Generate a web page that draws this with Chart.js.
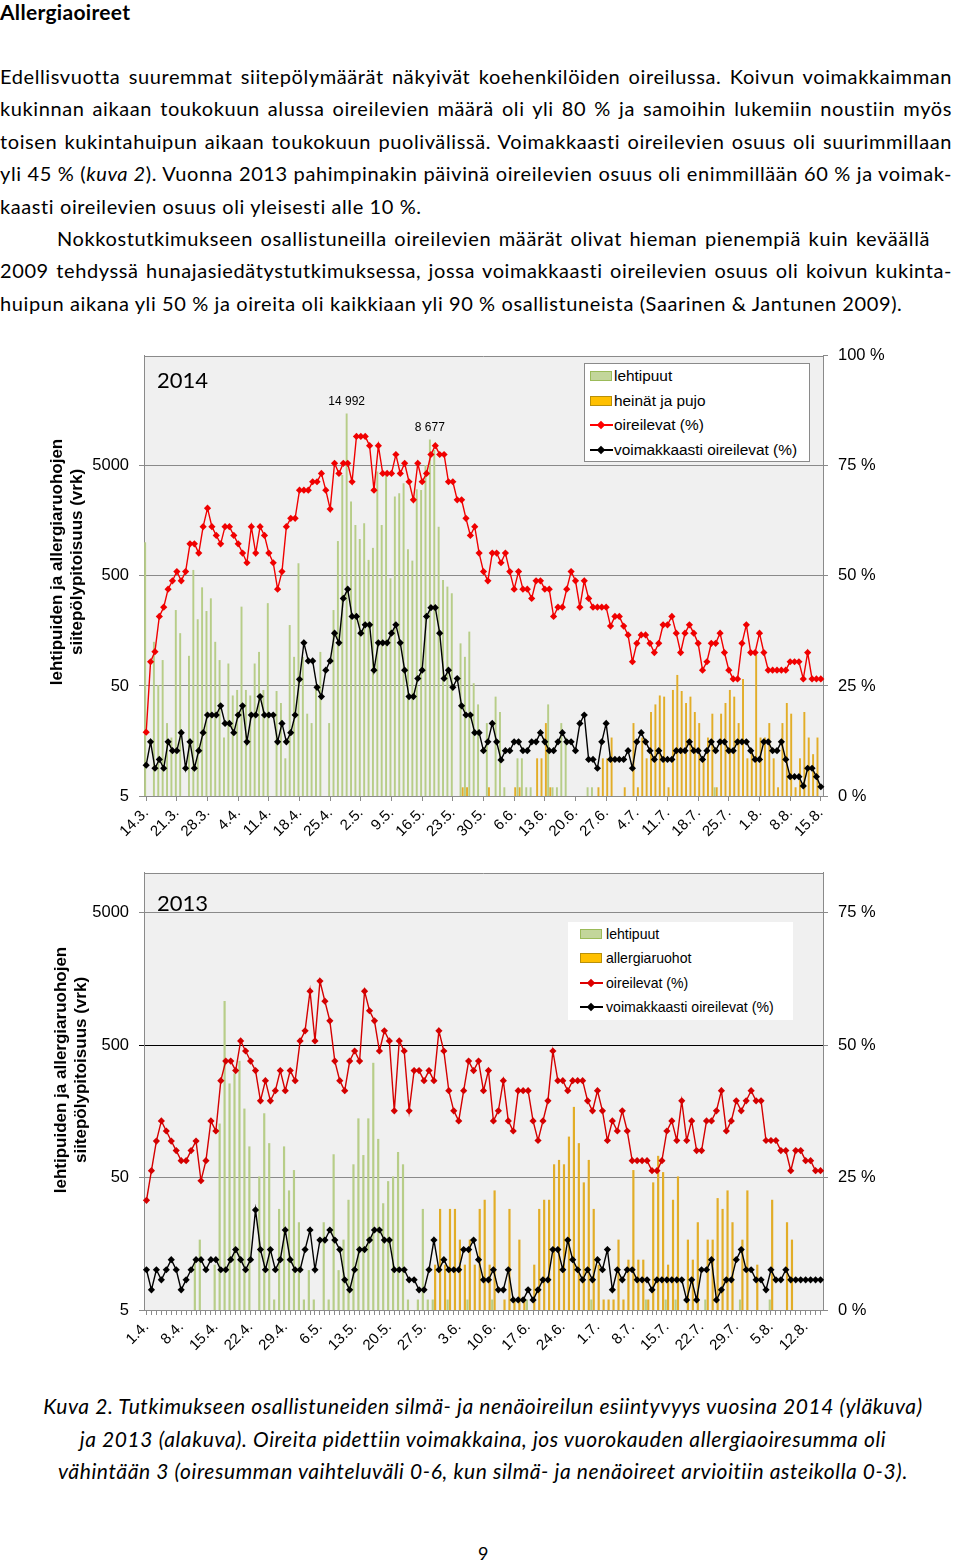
<!DOCTYPE html>
<html><head><meta charset="utf-8">
<script src="https://cdn.jsdelivr.net/npm/chart.js@4.4.1/dist/chart.umd.min.js"></script>
<style>
body{margin:0;width:960px;height:1565px;position:relative;background:#fff;color:#000;overflow:hidden;font-family:Lato,"Liberation Sans",sans-serif}
.abs{position:absolute}
.title{position:absolute;left:0;top:0;font-weight:bold;font-size:21px;letter-spacing:0.3px;line-height:24px}
.ln{position:absolute;left:0;width:952px;font-size:20px;letter-spacing:0.6px;line-height:32px;text-align:justify;text-align-last:justify;white-space:nowrap}
.ln.l{text-align:left;text-align-last:left}
.cap{position:absolute;left:0;width:966px;text-align:center;font-style:italic;font-size:21px;letter-spacing:0.6px;line-height:32px;white-space:nowrap}
.ytitle{position:absolute;width:300px;height:38px;line-height:19px;text-align:center;font:bold 17px "Liberation Sans",Arial,sans-serif;transform:rotate(-90deg)}
.yr{position:absolute;font-size:22px;line-height:24px}
.leg{position:absolute;background:#fff;box-sizing:border-box;font-family:"Liberation Sans",Arial,sans-serif}
.row{position:absolute;left:0;height:0;width:100%}
.sw{position:absolute;top:-5px;width:20px;height:8px;border:1px solid}
.lnm{position:absolute;top:-1px;width:23px;height:1.5px}
.dm{position:absolute;width:6px;height:6px;top:-3.5px;transform:rotate(45deg)}
.lt{position:absolute;top:-10px;line-height:20px;white-space:nowrap}
canvas{position:absolute;left:0}
</style></head><body>

<div class="title">Allergiaoireet</div>
<div class="ln" style="top:60px">Edellisvuotta suuremmat siitepölymäärät näkyivät koehenkilöiden oireilussa. Koivun voimakkaimman</div>
<div class="ln" style="top:92px">kukinnan aikaan toukokuun alussa oireilevien määrä oli yli 80 % ja samoihin lukemiin noustiin myös</div>
<div class="ln" style="top:125px">toisen kukintahuipun aikaan toukokuun puolivälissä. Voimakkaasti oireilevien osuus oli suurimmillaan</div>
<div class="ln" style="top:157px">yli 45 % (<i>kuva 2</i>). Vuonna 2013 pahimpinakin päivinä oireilevien osuus oli enimmillään 60 % ja voimak-</div>
<div class="ln l" style="top:190px">kaasti oireilevien osuus oli yleisesti alle 10 %.</div>
<div class="ln" style="top:222px;left:57px;width:873px">Nokkostutkimukseen osallistuneilla oireilevien määrät olivat hieman pienempiä kuin keväällä</div>
<div class="ln" style="top:254px">2009 tehdyssä hunajasiedätystutkimuksessa, jossa voimakkaasti oireilevien osuus oli koivun kukinta-</div>
<div class="ln l" style="top:287px">huipun aikana yli 50 % ja oireita oli kaikkiaan yli 90 % osallistuneista (Saarinen &amp; Jantunen 2009).</div>

<canvas id="c2014" width="960" height="520" style="top:336px"></canvas>
<canvas id="c2013" width="960" height="520" style="top:853px"></canvas>

<div class="ytitle" style="left:-84.5px;top:543px">lehtipuiden ja allergiaruohojen<br>siitepölypitoisuus (vrk)</div>
<div class="ytitle" style="left:-80px;top:1051px">lehtipuiden ja allergiaruohojen<br>siitepölypitoisuus (vrk)</div>
<div class="yr" style="left:157px;top:368px">2014</div>
<div class="yr" style="left:157px;top:891px">2013</div>

<div class="leg" style="left:584px;top:363px;width:226px;height:99px;border:1px solid #8a8a8a;font-size:15.4px">
  <div class="row" style="top:12px"><span class="sw" style="left:5px;background:#c3d69b;border-color:#9bbb59"></span><span class="lt" style="left:29px">lehtipuut</span></div>
  <div class="row" style="top:37px"><span class="sw" style="left:5px;background:#ffc000;border-color:#b8900a"></span><span class="lt" style="left:29px">heinät ja pujo</span></div>
  <div class="row" style="top:61px"><span class="lnm" style="left:5px;background:#f00"></span><span class="dm" style="left:13px;background:#f00"></span><span class="lt" style="left:29px">oireilevat (%)</span></div>
  <div class="row" style="top:86px"><span class="lnm" style="left:5px;background:#000"></span><span class="dm" style="left:13px;background:#000"></span><span class="lt" style="left:29px">voimakkaasti oireilevat (%)</span></div>
</div>
<div class="leg" style="left:568px;top:922px;width:225px;height:98px;font-size:14.1px">
  <div class="row" style="top:12px"><span class="sw" style="left:12px;background:#c3d69b;border-color:#9bbb59"></span><span class="lt" style="left:38px">lehtipuut</span></div>
  <div class="row" style="top:36px"><span class="sw" style="left:12px;background:#ffc000;border-color:#b8900a"></span><span class="lt" style="left:38px">allergiaruohot</span></div>
  <div class="row" style="top:61px"><span class="lnm" style="left:12px;background:#d00"></span><span class="dm" style="left:20px;background:#d00"></span><span class="lt" style="left:38px">oireilevat (%)</span></div>
  <div class="row" style="top:85px"><span class="lnm" style="left:12px;background:#000"></span><span class="dm" style="left:20px;background:#000"></span><span class="lt" style="left:38px">voimakkaasti oireilevat (%)</span></div>
</div>

<div class="cap" style="top:1390px">Kuva 2. Tutkimukseen osallistuneiden silmä- ja nenäoireilun esiintyvyys vuosina 2014 (yläkuva)</div>
<div class="cap" style="top:1423px">ja 2013 (alakuva). Oireita pidettiin voimakkaina, jos vuorokauden allergiaoiresumma oli</div>
<div class="cap" style="top:1455px">vähintään 3 (oiresumman vaihteluväli 0-6, kun silmä- ja nenäoireet arvioitiin asteikolla 0-3).</div>
<div class="abs" style="left:478px;top:1541px;font-size:18px;line-height:24px">9</div>

<script>
// ---------- 2014 ----------
const tickLabels2014 = ['14.3.','21.3.','28.3.','4.4.','11.4.','18.4.','25.4.','2.5.','9.5.','16.5.','23.5.','30.5.','6.6.','13.6.','20.6.','27.6.','4.7.','11.7.','18.7.','25.7.','1.8.','8.8.','15.8.'];
const lehtipuut2014 = [
1012,0,126,51,86,23,17,245,151,0,
94,567,202,394,240,313,126,86,17,80,
41,46,263,46,41,80,102,46,283,0,
45,35,11,179,92,652,92,28,23,50,
102,0,23,245,1038,4140,14992,2370,1455,1085,
1505,700,900,4440,1455,4140,476,2630,2825,3480,
873,689,3070,3025,5100,8677,6990,1400,460,400,
348,0,122,92,156,53,34,0,23,0,
40,29,6,0,0,11,11,6,6,0,
0,0,34,6,6,23,17,0,0,0,
0,6,6,0,0,0,0,0,0,0,
0,0,0,0,0,0,0,0,0,0,
0,0,0,0,0,0,0,0,0,0,
6,0,0,0,0,0,0,0,0,0,
0,0,0,0,0,0,0,0,0,0,
0,0,0,0,0];
const heinatJaPujo2014 = [
0,0,0,0,0,0,0,0,0,0,
0,0,0,0,0,0,0,0,0,0,
0,0,0,0,0,0,0,0,0,0,
0,0,0,0,0,0,0,0,0,0,
0,0,0,0,0,0,0,0,0,0,
0,0,0,0,0,0,0,0,0,0,
0,0,0,0,0,0,0,0,0,0,
0,0,6,6,0,0,0,0,6,0,
0,0,0,0,6,6,0,0,0,11,
11,23,6,0,0,0,0,0,0,0,
0,0,0,6,11,11,17,0,0,6,
0,23,6,17,11,29,34,41,40,6,
46,63,45,35,40,29,23,11,17,28,
6,28,35,46,40,23,58,11,13,96,
17,17,23,11,6,23,35,28,6,11,
29,17,12,17,0];
const oireilevat2014 = [
14.5,30.5,32.8,40.8,42.9,47.0,48.9,51.0,48.9,51.0,
57.3,57.3,55.2,61.2,65.4,61.2,59.2,57.3,61.2,61.2,
59.2,57.3,55.2,53.0,61.2,55.2,61.2,59.2,55.2,53.0,
47.0,51.0,61.2,63.1,63.1,69.5,69.5,69.5,71.4,71.4,
73.3,69.5,65.2,75.6,73.3,75.6,75.6,71.4,81.7,81.7,
81.7,79.6,69.5,79.6,73.3,73.3,73.3,77.6,73.3,75.6,
71.4,67.3,75.6,71.4,73.3,77.6,79.6,77.6,77.6,71.4,
71.4,67.3,67.3,63.1,59.2,61.2,55.2,51.0,48.9,55.2,
55.2,53.0,55.2,51.0,47.0,51.0,47.0,47.0,44.9,48.9,
48.9,47.0,47.0,40.8,42.9,42.9,47.0,51.0,48.9,42.9,
48.9,44.9,42.9,42.9,42.9,42.9,38.6,40.8,40.8,38.6,
36.6,30.5,34.7,36.6,36.6,34.7,32.6,34.7,38.9,38.9,
40.8,37.0,32.6,37.0,38.9,37.0,34.7,28.6,30.5,34.7,
34.7,37.0,32.6,28.6,26.6,26.6,34.7,38.9,32.6,32.6,
37.0,32.6,28.6,28.6,28.6,28.6,28.6,30.5,30.5,30.5,
26.6,32.6,26.6,26.6,26.6];
const voimakkaasti2014 = [
7.0,12.3,6.3,8.3,6.3,12.3,10.3,10.3,14.4,6.3,
12.3,6.3,10.3,14.4,18.4,18.4,18.4,20.5,16.5,16.5,
14.4,18.4,20.5,12.3,18.4,18.4,22.6,18.4,18.4,18.4,
12.3,16.5,12.3,14.4,18.4,26.5,34.8,30.7,30.7,24.7,
22.6,28.6,30.7,37.0,34.8,44.9,47.0,40.8,40.8,37.0,
38.9,38.9,28.6,34.8,34.8,34.8,37.0,38.9,34.8,28.6,
22.6,22.6,26.7,28.6,40.8,42.8,42.8,37.0,26.7,28.6,
24.7,26.7,20.5,18.4,18.4,14.4,14.4,10.3,12.3,16.5,
12.3,8.2,10.3,10.3,12.3,12.3,10.3,10.3,12.3,12.3,
14.4,12.3,10.3,10.3,12.3,14.4,12.3,12.3,10.3,16.5,
18.4,8.3,8.3,6.3,12.3,16.5,8.3,8.3,8.3,8.3,
10.3,6.3,12.3,14.4,12.3,10.3,8.3,10.3,8.3,8.3,
8.3,10.3,10.3,10.3,12.3,10.3,10.3,8.3,10.3,12.3,
10.3,12.3,12.3,10.3,10.3,12.3,12.3,12.3,10.3,8.3,
8.3,12.3,12.3,10.3,10.3,12.3,8.3,4.4,4.4,4.4,
2.3,6.3,6.3,4.4,2.1];
const labelledDays2014 = [46, 65];

// ---------- 2013 ----------
const tickLabels2013 = ['1.4.','8.4.','15.4.','22.4.','29.4.','6.5.','13.5.','20.5.','27.5.','3.6.','10.6.','17.6.','24.6.','1.7.','8.7.','15.7.','22.7.','29.7.','5.8.','12.8.'];
const lehtipuut2013 = [
0,0,0,0,0,0,0,0,0,0,
12,17,0,0,11,128,1079,257,306,381,
166,86,0,51,153,91,6,29,86,40,
57,23,6,10,6,0,23,6,75,10,
17,34,63,140,74,140,368,98,32,47,
51,78,63,6,0,6,29,6,6,0,
0,6,0,0,0,6,0,0,0,0,
6,0,0,0,0,0,0,6,0,0,
0,0,0,0,0,0,0,0,0,0,
6,0,0,0,0,0,0,0,0,0,
0,6,0,0,0,6,0,6,0,0,
0,0,0,6,0,0,0,0,0,0,
6,0,0,0,0,0,6,0,0,0,
0,0,0,0,0,0,0];
const allergiaruohot2013 = [
0,0,0,0,0,0,0,0,0,0,
0,0,0,0,0,0,0,0,0,0,
0,0,0,0,0,0,0,0,0,0,
0,0,0,0,0,0,0,0,0,0,
0,0,0,0,0,0,0,0,0,0,
0,0,0,0,0,0,0,0,11,29,
11,29,29,17,11,17,11,29,34,11,
40,0,6,29,6,17,6,0,11,29,
34,34,63,68,63,102,171,91,46,68,
29,11,6,6,6,17,6,12,57,12,
12,6,46,73,55,11,34,51,0,17,
12,23,0,17,17,35,29,40,23,0,
17,40,0,11,0,0,34,0,0,23,
17,0,0,0,0,0,0];
const oireilevat2013 = [
20.7,26.3,31.9,35.7,33.8,31.9,30.1,28.2,28.2,30.1,
31.9,24.4,28.2,35.7,33.8,43.3,47.0,47.0,45.2,50.8,
48.9,47.0,45.2,39.5,43.3,39.5,41.4,45.2,41.4,45.2,
43.3,50.8,52.7,60.2,50.8,62.1,58.3,54.6,47.0,43.3,
41.4,47.0,48.9,47.0,60.2,56.5,54.6,48.9,52.7,50.8,
37.6,50.8,48.9,37.6,45.2,45.2,43.3,45.2,43.3,52.7,
48.9,41.4,37.6,35.7,41.4,47.0,45.2,47.0,41.4,45.2,
35.7,37.6,43.3,35.7,33.8,41.4,41.4,41.4,35.7,32.0,
35.7,39.5,48.9,43.3,43.3,41.4,43.3,43.3,43.3,39.5,
37.6,41.4,37.6,32.0,35.7,33.8,37.6,33.8,28.2,28.2,
28.2,28.2,26.3,26.3,28.2,33.8,35.7,32.0,39.5,32.0,
35.7,30.1,30.1,35.7,35.7,37.6,41.4,33.8,35.7,39.5,
37.6,39.5,41.4,39.5,39.5,32.0,32.0,32.0,30.1,30.1,
26.3,30.1,30.1,28.2,28.2,26.3,26.3];
const voimakkaasti2013 = [
7.6,3.8,7.6,5.7,7.6,9.5,7.6,3.8,5.7,7.6,
9.5,9.5,7.6,9.5,9.5,7.6,7.6,9.5,11.4,9.5,
7.6,9.5,18.9,11.4,7.6,11.4,7.6,9.5,15.1,9.5,
7.6,7.6,11.4,15.1,7.6,13.2,13.2,15.1,13.2,11.4,
5.7,3.8,7.6,11.4,11.4,13.2,15.1,15.1,13.2,13.2,
7.6,7.6,7.6,5.7,5.7,3.8,3.8,7.6,13.2,7.6,
9.5,7.6,7.6,7.6,11.4,11.4,13.2,9.5,5.7,5.7,
7.6,3.8,3.8,7.6,1.9,1.9,1.9,3.8,1.9,3.8,
5.7,5.7,11.4,11.4,7.6,13.2,9.5,7.6,5.7,7.6,
5.7,9.5,7.6,11.4,3.8,7.6,5.7,7.6,7.6,5.7,
5.7,5.7,3.8,5.7,5.7,5.7,5.7,5.7,5.7,1.9,
5.7,1.9,7.6,7.6,9.5,1.9,3.8,5.7,5.7,9.5,
11.4,7.6,7.6,5.7,5.7,3.8,7.6,5.7,5.7,7.6,
5.7,5.7,5.7,5.7,5.7,5.7,5.7];

// daily category labels (d.m.)
function dayLabels(y, m, d, n) {
  const out = [];
  for (let i = 0; i < n; i++) {
    const dt = new Date(y, m - 1, d + i);
    out.push(dt.getDate() + '.' + (dt.getMonth() + 1) + '.');
  }
  return out;
}
const days2014 = dayLabels(2014, 3, 14, oireilevat2014.length);
const days2013 = dayLabels(2013, 4, 1, oireilevat2013.length);

const plotDeco = {
  id: 'plotDeco',
  beforeDraw(chart, args, o) {
    const {ctx, chartArea: a} = chart;
    ctx.save();
    ctx.fillStyle = o.bg;
    ctx.fillRect(a.left, a.top, a.right - a.left, a.bottom - a.top);
    ctx.restore();
  },
  afterDraw(chart, args, o) {
    const {ctx, chartArea: a} = chart;
    ctx.save();
    ctx.strokeStyle = o.border; ctx.lineWidth = 1;
    ctx.beginPath();
    ctx.moveTo(a.left, Math.round(a.top) + 0.5);
    ctx.lineTo(a.right, Math.round(a.top) + 0.5);
    ctx.stroke();
    ctx.restore();
  }
};
const barLabels = {
  id: 'barLabels',
  afterDatasetsDraw(chart, args, o) {
    if (!o.days || !o.days.length) return;
    const ctx = chart.ctx;
    const meta = chart.getDatasetMeta(o.dataset);
    ctx.save();
    ctx.font = '12px "Liberation Sans", Arial, sans-serif';
    ctx.fillStyle = '#000'; ctx.textAlign = 'center'; ctx.textBaseline = 'middle';
    o.days.forEach(i => {
      const el = meta.data[i];
      const v = chart.data.datasets[o.dataset].data[i];
      const txt = String(v).replace(/\B(?=(\d{3})+(?!\d))/g, ' ');
      ctx.fillText(txt, el.x, el.y - 12);
    });
    ctx.restore();
  }
};

function build(id, o) {
  const font = {family: '"Liberation Sans", Arial, sans-serif', size: 16.5};
  return new Chart(document.getElementById(id), {
    type: 'bar',
    data: {
      labels: o.days,
      datasets: [
        {type: 'line', label: 'voimakkaasti oireilevat (%)', data: o.strong, yAxisID: 'y2',
         borderColor: '#000', backgroundColor: '#000', borderWidth: 1.4, pointStyle: 'rectRot',
         pointRadius: 3.6, pointBorderWidth: 0, tension: 0, order: 0},
        {type: 'line', label: 'oireilevat (%)', data: o.sym, yAxisID: 'y2',
         borderColor: o.red, backgroundColor: o.red, borderWidth: 1.4, pointStyle: 'rectRot',
         pointRadius: 3.6, pointBorderWidth: 0, tension: 0, order: 1},
        {label: 'lehtipuut', data: o.green, yAxisID: 'y', backgroundColor: '#b7cd88',
         borderWidth: 0, categoryPercentage: 0.96, barPercentage: 0.92, order: 2},
        {label: o.yellowLabel, data: o.yellow, yAxisID: 'y', backgroundColor: '#e2ad28',
         borderWidth: 0, categoryPercentage: 0.96, barPercentage: 0.92, order: 2}
      ]
    },
    options: {
      responsive: false, animation: false,
      layout: {padding: {top: o.padTop, left: 0, right: 0, bottom: 0}},
      plugins: {
        legend: {display: false}, tooltip: {enabled: false},
        plotDeco: {bg: '#f0f0f0', border: '#8a8a8a'},
        barLabels: {dataset: 2, days: o.labelled || []}
      },
      scales: {
        x: {
          type: 'category', offset: true,
          grid: {offset: false, drawOnChartArea: false, drawTicks: true, tickLength: 5,
                 color: c => o.allTicks || c.index % 7 === 0 ? '#8a8a8a' : 'rgba(0,0,0,0)'},
          border: {color: '#8a8a8a'},
          ticks: {autoSkip: false, minRotation: 45, maxRotation: 45, padding: 3, color: '#000',
                  font: {family: '"Liberation Sans", Arial, sans-serif', size: 15},
                  callback: (v, i) => (i % 7 === 0 && o.tickLabels[i / 7]) ? o.tickLabels[i / 7] : ''},
          afterFit: s => { s.height = o.xH; }
        },
        y: {
          type: 'logarithmic', position: 'left', min: 5, max: o.logMax,
          afterBuildTicks: s => { s.ticks = [5, 50, 500, 5000].map(v => ({value: v})); },
          ticks: {callback: v => String(v), padding: 10, color: '#000', font},
          grid: {color: o.gridColor, tickLength: 5, drawTicks: true},
          border: {color: '#8a8a8a'},
          afterFit: s => { s.width = 144; }
        },
        y2: {
          type: 'linear', position: 'right', min: 0, max: o.pctMax,
          afterBuildTicks: s => { s.ticks = o.pctTicks.map(v => ({value: v})); },
          ticks: {callback: v => v + ' %', padding: 10, color: '#000', font},
          grid: {drawOnChartArea: false, tickLength: 5, color: '#8a8a8a'},
          border: {color: '#8a8a8a'},
          afterFit: s => { s.width = 137; }
        }
      }
    },
    plugins: [plotDeco, barLabels]
  });
}

build('c2014', {
  days: days2014, tickLabels: tickLabels2014, green: lehtipuut2014, yellow: heinatJaPujo2014,
  yellowLabel: 'heinät ja pujo', sym: oireilevat2014, strong: voimakkaasti2014, red: '#f00000',
  logMax: 50000, pctMax: 100, pctTicks: [0, 25, 50, 75, 100], padTop: 0, xH: 60,
  gridColor: '#8a8a8a', labelled: labelledDays2014, allTicks: false
});
build('c2013', {
  days: days2013, tickLabels: tickLabels2013, green: lehtipuut2013, yellow: allergiaruohot2013,
  yellowLabel: 'allergiaruohot', sym: oireilevat2013, strong: voimakkaasti2013, red: '#d40000',
  logMax: 10000, pctMax: 25 * Math.log10(2000), pctTicks: [0, 25, 50, 75], padTop: 0, xH: 63,
  gridColor: c => (c.tick && c.tick.value === 500) ? '#000' : '#8a8a8a', labelled: [], allTicks: true
});
</script>
</body></html>
